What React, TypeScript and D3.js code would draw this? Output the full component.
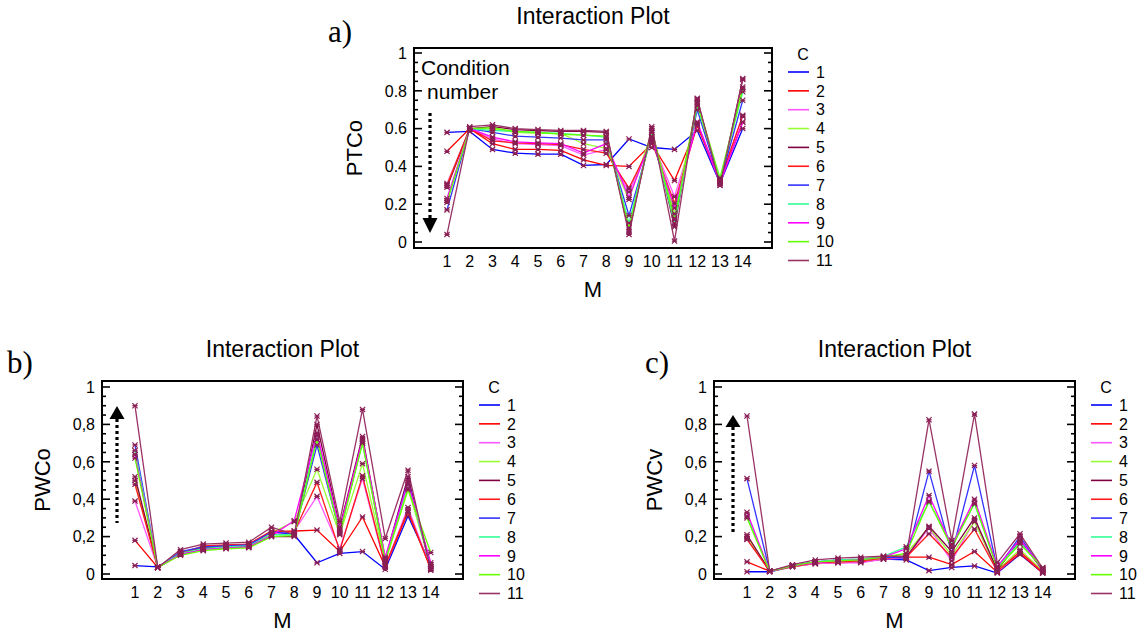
import { useEffect, useRef } from "react";
import * as d3 from "d3";

const mValues = [1, 2, 3, 4, 5, 6, 7, 8, 9, 10, 11, 12, 13, 14];
const cLabels = ["1", "2", "3", "4", "5", "6", "7", "8", "9", "10", "11"];
const cColors = ["#0000ff", "#ff0000", "#ff55ff", "#99ff33", "#800040", "#ff1a1a", "#3333ff", "#33ff99", "#ff00ff", "#66ff00", "#993366"];
const yTicks = [0, 0.2, 0.4, 0.6, 0.8, 1];
const yTickDot = ["0", "0.2", "0.4", "0.6", "0.8", "1"];
const yTickComma = ["0", "0,2", "0,4", "0,6", "0,8", "1"];

// a) PTCo, one row per condition number C
const ptco = [
  [0.58, 0.585, 0.49, 0.47, 0.465, 0.465, 0.405, 0.41, 0.545, 0.50, 0.49, 0.59, 0.31, 0.60],
  [0.48, 0.60, 0.52, 0.49, 0.49, 0.485, 0.435, 0.405, 0.40, 0.52, 0.325, 0.615, 0.32, 0.635],
  [0.31, 0.60, 0.545, 0.52, 0.515, 0.51, 0.46, 0.49, 0.265, 0.54, 0.24, 0.63, 0.33, 0.665],
  [0.30, 0.60, 0.60, 0.58, 0.575, 0.575, 0.52, 0.495, 0.225, 0.58, 0.15, 0.74, 0.34, 0.82],
  [0.29, 0.60, 0.61, 0.595, 0.59, 0.585, 0.585, 0.58, 0.055, 0.60, 0.08, 0.755, 0.30, 0.865],
  [0.30, 0.60, 0.535, 0.525, 0.52, 0.515, 0.49, 0.47, 0.285, 0.53, 0.205, 0.62, 0.325, 0.67],
  [0.17, 0.60, 0.58, 0.56, 0.555, 0.55, 0.54, 0.54, 0.14, 0.56, 0.125, 0.70, 0.315, 0.75],
  [0.22, 0.60, 0.59, 0.585, 0.58, 0.575, 0.565, 0.555, 0.10, 0.58, 0.10, 0.72, 0.335, 0.795],
  [0.23, 0.60, 0.555, 0.53, 0.525, 0.52, 0.47, 0.52, 0.235, 0.55, 0.18, 0.635, 0.31, 0.635],
  [0.21, 0.60, 0.605, 0.585, 0.58, 0.57, 0.565, 0.56, 0.075, 0.59, 0.12, 0.73, 0.33, 0.81],
  [0.04, 0.61, 0.62, 0.60, 0.595, 0.59, 0.59, 0.585, 0.04, 0.61, 0.005, 0.76, 0.30, 0.86],
];

// b) PWCo
const pwco = [
  [0.045, 0.038, 0.11, 0.14, 0.15, 0.155, 0.225, 0.21, 0.06, 0.11, 0.12, 0.025, 0.31, 0.05],
  [0.18, 0.035, 0.115, 0.145, 0.15, 0.16, 0.225, 0.23, 0.235, 0.12, 0.305, 0.04, 0.33, 0.03],
  [0.39, 0.035, 0.105, 0.13, 0.14, 0.145, 0.21, 0.23, 0.415, 0.135, 0.51, 0.04, 0.355, 0.03],
  [0.50, 0.035, 0.105, 0.13, 0.14, 0.145, 0.22, 0.28, 0.56, 0.21, 0.59, 0.06, 0.46, 0.04],
  [0.52, 0.035, 0.11, 0.135, 0.145, 0.15, 0.20, 0.20, 0.80, 0.25, 0.735, 0.08, 0.52, 0.03],
  [0.48, 0.035, 0.11, 0.15, 0.155, 0.16, 0.23, 0.225, 0.49, 0.125, 0.525, 0.045, 0.34, 0.025],
  [0.69, 0.035, 0.12, 0.145, 0.15, 0.155, 0.225, 0.215, 0.69, 0.22, 0.71, 0.07, 0.50, 0.04],
  [0.66, 0.035, 0.11, 0.135, 0.145, 0.15, 0.21, 0.21, 0.74, 0.23, 0.70, 0.08, 0.48, 0.05],
  [0.64, 0.035, 0.105, 0.13, 0.14, 0.145, 0.205, 0.285, 0.755, 0.24, 0.72, 0.09, 0.49, 0.06],
  [0.62, 0.035, 0.10, 0.125, 0.135, 0.14, 0.20, 0.205, 0.72, 0.215, 0.70, 0.07, 0.45, 0.115],
  [0.90, 0.035, 0.13, 0.16, 0.165, 0.17, 0.25, 0.21, 0.845, 0.28, 0.88, 0.19, 0.555, 0.02],
];

// c) PWCv
const pwcv = [
  [0.012, 0.012, 0.04, 0.06, 0.065, 0.065, 0.08, 0.075, 0.018, 0.035, 0.043, 0.005, 0.105, 0.005],
  [0.065, 0.015, 0.04, 0.055, 0.06, 0.065, 0.08, 0.09, 0.09, 0.05, 0.12, 0.01, 0.11, 0.005],
  [0.19, 0.015, 0.04, 0.055, 0.06, 0.06, 0.08, 0.085, 0.245, 0.07, 0.285, 0.01, 0.12, 0.01],
  [0.20, 0.015, 0.04, 0.06, 0.065, 0.07, 0.085, 0.11, 0.25, 0.10, 0.28, 0.02, 0.13, 0.015],
  [0.21, 0.015, 0.045, 0.065, 0.07, 0.075, 0.09, 0.09, 0.255, 0.12, 0.30, 0.02, 0.18, 0.02],
  [0.185, 0.015, 0.04, 0.06, 0.065, 0.07, 0.085, 0.09, 0.215, 0.09, 0.24, 0.015, 0.12, 0.01],
  [0.51, 0.015, 0.045, 0.065, 0.075, 0.08, 0.09, 0.085, 0.55, 0.11, 0.58, 0.03, 0.20, 0.02],
  [0.31, 0.015, 0.045, 0.065, 0.075, 0.08, 0.095, 0.145, 0.385, 0.16, 0.375, 0.035, 0.17, 0.03],
  [0.33, 0.015, 0.045, 0.06, 0.07, 0.075, 0.09, 0.135, 0.42, 0.15, 0.40, 0.04, 0.185, 0.025],
  [0.30, 0.015, 0.045, 0.065, 0.07, 0.075, 0.09, 0.11, 0.39, 0.14, 0.38, 0.03, 0.16, 0.035],
  [0.845, 0.015, 0.05, 0.075, 0.085, 0.09, 0.095, 0.095, 0.825, 0.18, 0.855, 0.06, 0.215, 0.03],
];

const FONT = "'Liberation Sans', Arial, sans-serif";
const SERIF = "'Liberation Serif', 'Times New Roman', serif";

type Panel = {
  tag: string; tagX: number; tagY: number;
  left: number; top: number; right: number; bottom: number;
  y0: number; y1: number;
  yLabel: string; tickLabels: string[]; data: number[][];
  arrow: { x: number; tip: number; base: number; end: number };
};

const panels: Panel[] = [
  { tag: "a)", tagX: 328, tagY: 42, left: 414, top: 48, right: 772, bottom: 248, y0: 242, y1: 53,
    yLabel: "PTCo", tickLabels: yTickDot, data: ptco,
    arrow: { x: 430, tip: 233, base: 218, end: 113 } },
  { tag: "b)", tagX: 7, tagY: 373, left: 102, top: 381, right: 463, bottom: 579, y0: 574, y1: 387,
    yLabel: "PWCo", tickLabels: yTickComma, data: pwco,
    arrow: { x: 117, tip: 406, base: 419, end: 523 } },
  { tag: "c)", tagX: 645, tagY: 373, left: 714, top: 381, right: 1075, bottom: 579, y0: 574, y1: 387,
    yLabel: "PWCv", tickLabels: yTickComma, data: pwcv,
    arrow: { x: 733, tip: 415, base: 427, end: 532 } },
];

function drawPanel(svg: d3.Selection<SVGSVGElement, unknown, null, undefined>, p: Panel) {
  const g = svg.append("g");
  const x = d3.scaleLinear().domain([1, 14]).range([p.left + 33, p.left + 33 + 13 * 22.75]);
  const y = d3.scaleLinear().domain([0, 1]).range([p.y0, p.y1]);
  const cx = (p.left + p.right) / 2;
  const cy = (p.top + p.bottom) / 2;

  g.append("text").attr("x", p.tagX).attr("y", p.tagY).attr("font-family", SERIF)
    .attr("font-size", 31).text(p.tag);
  g.append("text").attr("x", cx).attr("y", p.top - 24).attr("text-anchor", "middle")
    .attr("font-family", FONT).attr("font-size", 23).text("Interaction Plot");

  // minor ticks every 0.05, major every 0.2, on both sides pointing inward
  const minor = d3.range(0, 1.0001, 0.05);
  minor.forEach((v, i) => {
    const len = i % 4 === 0 ? 8 : 4;
    g.append("line").attr("x1", p.left).attr("x2", p.left + len)
      .attr("y1", y(v)).attr("y2", y(v)).attr("stroke", "#000").attr("stroke-width", 1.6);
    g.append("line").attr("x1", p.right).attr("x2", p.right - len)
      .attr("y1", y(v)).attr("y2", y(v)).attr("stroke", "#000").attr("stroke-width", 1.6);
  });

  yTicks.forEach((v, i) => {
    g.append("text").attr("x", p.left - 7).attr("y", y(v)).attr("dy", "0.36em")
      .attr("text-anchor", "end").attr("font-family", FONT).attr("font-size", 16)
      .text(p.tickLabels[i]);
  });
  mValues.forEach((m) => {
    g.append("text").attr("x", x(m)).attr("y", p.bottom + 19).attr("text-anchor", "middle")
      .attr("font-family", FONT).attr("font-size", 16).text(String(m));
  });

  g.append("text").attr("x", cx).attr("y", p.bottom + 49).attr("text-anchor", "middle")
    .attr("font-family", FONT).attr("font-size", 22).text("M");
  g.append("text").attr("transform", `translate(${p.left - 52},${cy}) rotate(-90)`)
    .attr("text-anchor", "middle").attr("font-family", FONT).attr("font-size", 22)
    .text(p.yLabel);

  const line = d3.line<number>().x((_, i) => x(mValues[i])).y((d) => y(d));
  p.data.forEach((s, k) => {
    g.append("path").attr("d", line(s)).attr("fill", "none")
      .attr("stroke", cColors[k]).attr("stroke-width", 1.3);
  });
  p.data.forEach((s) => {
    s.forEach((v, i) => {
      const px = x(mValues[i]), py = y(v), r = 2.6;
      g.append("path")
        .attr("d", `M${px - r},${py - r}L${px + r},${py + r}M${px - r},${py + r}L${px + r},${py - r}M${px - r},${py}L${px + r},${py}`)
        .attr("stroke", "#8a1f55").attr("stroke-width", 1.2);
    });
  });

  g.append("rect").attr("x", p.left).attr("y", p.top)
    .attr("width", p.right - p.left).attr("height", p.bottom - p.top)
    .attr("fill", "none").attr("stroke", "#000").attr("stroke-width", 2);

  // dotted arrow for the condition number
  const a = p.arrow;
  g.append("line").attr("x1", a.x).attr("x2", a.x).attr("y1", a.base).attr("y2", a.end)
    .attr("stroke", "#000").attr("stroke-width", 3.2).attr("stroke-dasharray", "3 3");
  g.append("path").attr("d", `M${a.x},${a.tip}L${a.x - 7.5},${a.base}L${a.x + 7.5},${a.base}Z`)
    .attr("fill", "#000");

  // legend
  const lx = p.right + 16;
  g.append("text").attr("x", p.right + 31).attr("y", p.top + 12).attr("text-anchor", "middle")
    .attr("font-family", FONT).attr("font-size", 16).text("C");
  cLabels.forEach((c, k) => {
    const ly = p.top + 24 + k * 18.85;
    g.append("line").attr("x1", lx).attr("x2", lx + 21).attr("y1", ly).attr("y2", ly)
      .attr("stroke", cColors[k]).attr("stroke-width", 1.6);
    g.append("text").attr("x", lx + 28).attr("y", ly).attr("dy", "0.36em")
      .attr("font-family", FONT).attr("font-size", 16).text(c);
  });
}

export default function App() {
  const svgRef = useRef<SVGSVGElement>(null);

  useEffect(() => {
    const svg = d3.select(svgRef.current!);
    svg.selectAll("*").remove();
    panels.forEach((p) => drawPanel(svg, p));

    svg.append("text").attr("x", 421).attr("y", 75).attr("font-family", FONT)
      .attr("font-size", 21).text("Condition");
    svg.append("text").attr("x", 427).attr("y", 99).attr("font-family", FONT)
      .attr("font-size", 21).text("number");
  }, []);

  return (
    <svg ref={svgRef} width={1138} height={637}
      style={{ position: "absolute", left: 0, top: 0, background: "#fff" }} />
  );
}
